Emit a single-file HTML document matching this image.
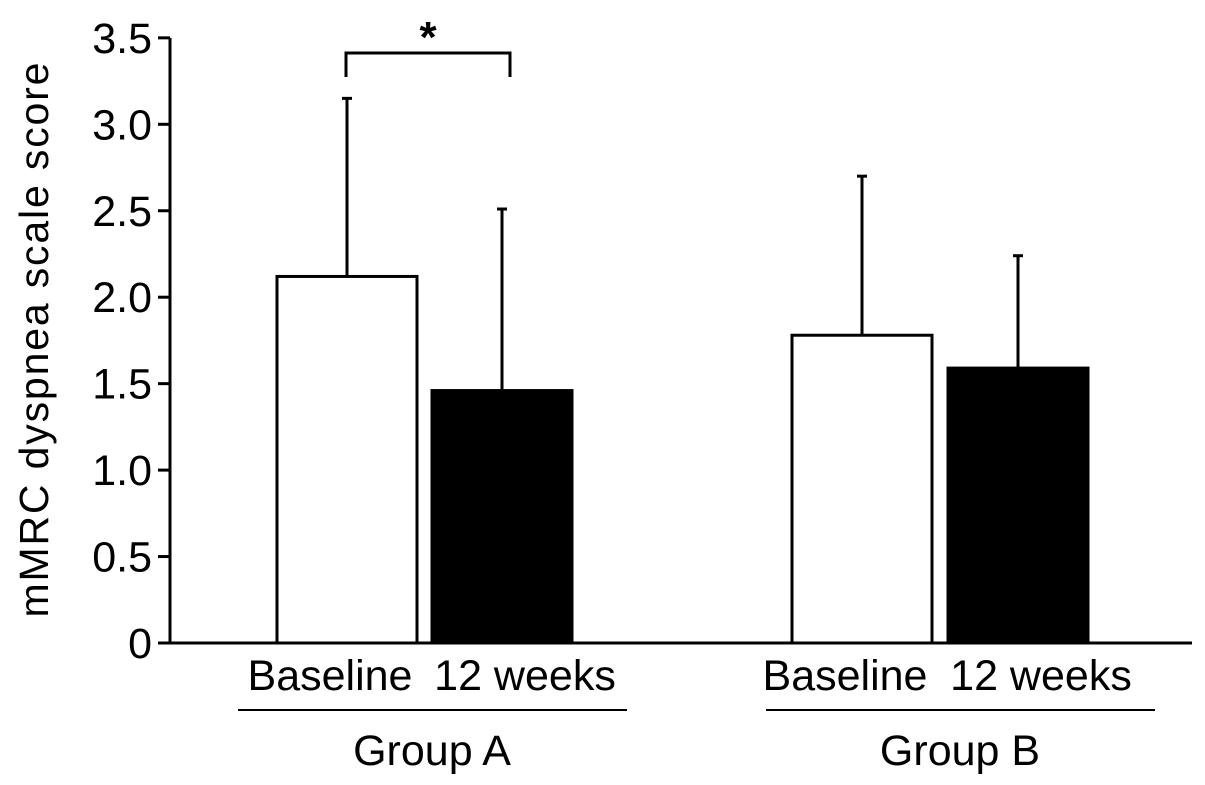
<!DOCTYPE html>
<html><head><meta charset="utf-8"><style>
body{margin:0;background:#fff}
svg{display:block;font-family:"Liberation Sans",Arial,sans-serif}
</style></head><body>
<svg id="chart" width="1205" height="785" viewBox="0 0 1205 785">
<g id="axes"></g><g id="bars"></g><g id="labels"></g>
</svg>
<script>
const categories=["Baseline","12 weeks","Baseline","12 weeks"];
const groups=["Group A","Group B"];
const means=[2.12,1.46,1.78,1.59];
const errTops=[3.15,2.51,2.70,2.24];
const yTicks=[0,0.5,1.0,1.5,2.0,2.5,3.0,3.5];
const yTickLabels=["0","0.5","1.0","1.5","2.0","2.5","3.0","3.5"];
const NS="http://www.w3.org/2000/svg";
const y0=643,pxPer=172.9;
function y(v){return y0-v*pxPer;}
const barX=[277,432,792,948],barW=140;
function mk(tag,attrs,parent,text){const e=document.createElementNS(NS,tag);for(const k in attrs)e.setAttribute(k,attrs[k]);if(text!==undefined)e.textContent=text;document.getElementById(parent).appendChild(e);return e;}
const ax=mk('line',{x1:170,y1:y(3.5),x2:170,y2:y0+1,stroke:'#000','stroke-width':3},'axes');


const xa=mk('line',{x1:168,y1:y0,x2:1192,y2:y0,stroke:'#000','stroke-width':3},'axes');


yTicks.forEach((t,i)=>{
 const tk=mk('line',{x1:158,y1:y(t),x2:170,y2:y(t),stroke:'#000','stroke-width':3},'axes');
 
 
 const tl=mk('text',{x:152,y:y(t)+15,'text-anchor':'end','font-size':43},'axes',yTickLabels[i]);
 
 
});
const yt=mk('text',{x:0,y:0,transform:'translate(48,340) rotate(-90)','text-anchor':'middle','font-size':41,'textLength':555},'axes','mMRC dyspnea scale score');


means.forEach((m,i)=>{
 const cx=barX[i]+barW/2;
 const b=mk('rect',{x:barX[i],y:y(m),width:barW,height:y0-y(m),fill:i%2?'#000':'#fff',stroke:'#000','stroke-width':3},'bars');
 
 
 const e=mk('line',{x1:cx,y1:y(m),x2:cx,y2:y(errTops[i]),stroke:'#000','stroke-width':3},'bars');
 
 
 const c=mk('line',{x1:cx-5,y1:y(errTops[i]),x2:cx+5,y2:y(errTops[i]),stroke:'#000','stroke-width':3},'bars');
 
 
 const l=mk('text',{x:cx+(i%2?23:-17),y:690,'text-anchor':'middle','font-size':43},'labels',categories[i]);
 
 
});
[[238,627,432],[766,1155,960]].forEach((g,i)=>{
 const gl=mk('line',{x1:g[0],y1:710,x2:g[1],y2:710,stroke:'#000','stroke-width':2},'labels');
 
 
 const gt=mk('text',{x:g[2],y:765,'text-anchor':'middle','font-size':43},'labels',groups[i]);
 
 
});
const br=mk('path',{d:'M346 77 V53 H510 V77',fill:'none',stroke:'#000','stroke-width':3},'labels');


const st=mk('text',{x:428,y:52,'text-anchor':'middle','font-size':44,'font-weight':'bold'},'labels','*');


</script>
</body></html>
